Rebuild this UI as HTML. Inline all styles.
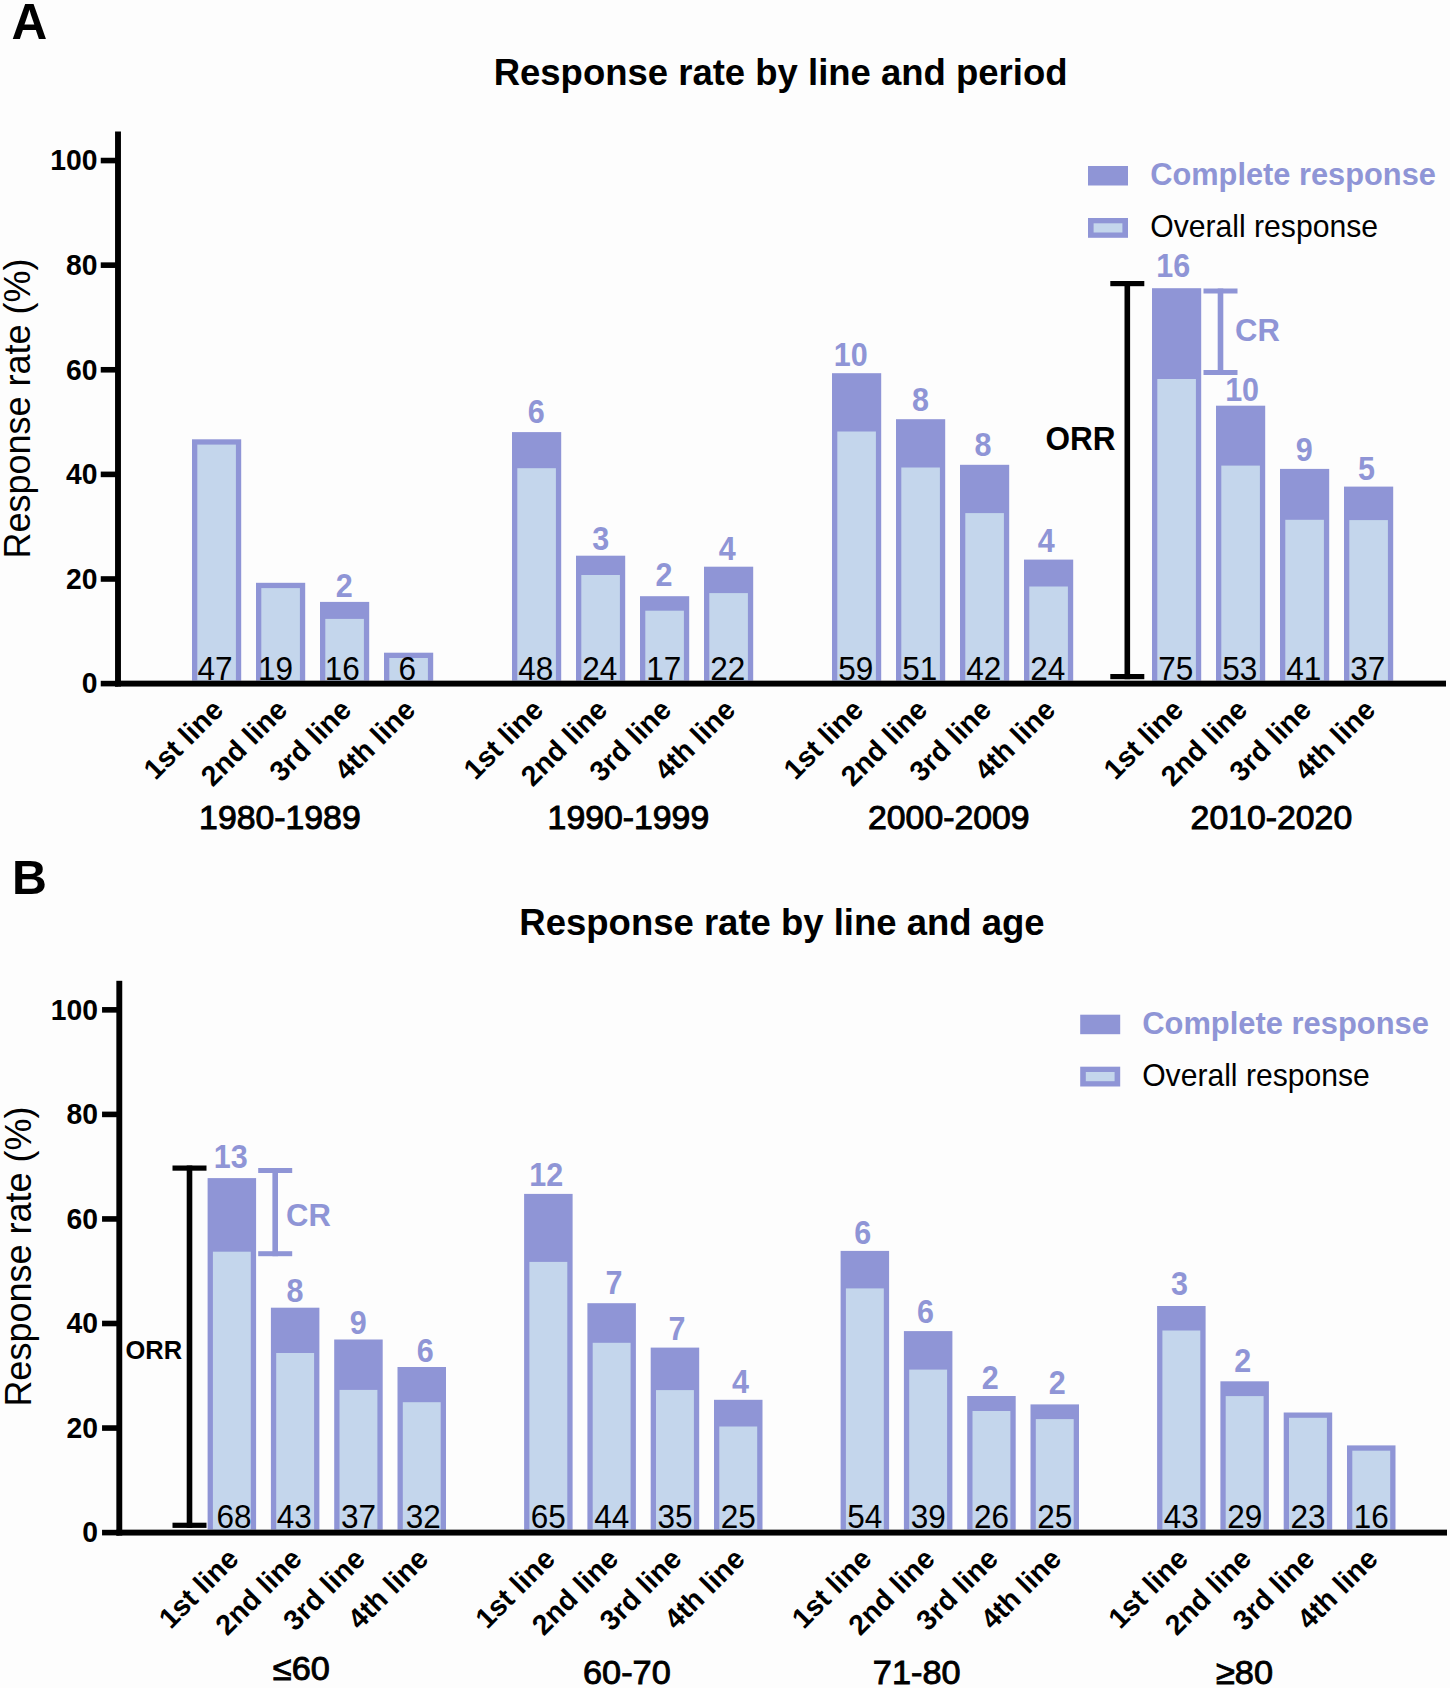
<!DOCTYPE html>
<html><head><meta charset="utf-8"><title>Response rate by line</title>
<style>
html,body{margin:0;padding:0;background:#fdfdfd;}
body{width:1450px;height:1688px;overflow:hidden;}
svg{display:block;font-family:"Liberation Sans", sans-serif;}
</style></head>
<body>
<svg width="1450" height="1688" viewBox="0 0 1450 1688">
<rect x="0" y="0" width="1450" height="1688" fill="#fdfdfd"/>
<rect x="192.00" y="439.30" width="49.20" height="241.35" fill="#8f95d6"/>
<rect x="197.30" y="444.60" width="38.60" height="236.05" fill="#c4d6ec"/>
<text transform="translate(215.00 679.60) scale(1.0000 1.0300)" font-size="31.5" fill="#000" text-anchor="middle">47</text>
<rect x="256.00" y="582.80" width="49.20" height="97.85" fill="#8f95d6"/>
<rect x="261.30" y="588.10" width="38.60" height="92.55" fill="#c4d6ec"/>
<text transform="translate(275.60 679.60) scale(1.0000 1.0300)" font-size="31.5" fill="#000" text-anchor="middle">19</text>
<rect x="320.00" y="601.90" width="49.20" height="78.75" fill="#8f95d6"/>
<rect x="325.30" y="618.90" width="38.60" height="61.75" fill="#c4d6ec"/>
<text transform="translate(344.20 596.80) scale(1.0000 1.0700)" font-size="30.5" font-weight="bold" fill="#8f95d6" text-anchor="middle">2</text>
<text transform="translate(342.20 679.60) scale(1.0000 1.0300)" font-size="31.5" fill="#000" text-anchor="middle">16</text>
<rect x="384.00" y="652.70" width="49.20" height="27.95" fill="#8f95d6"/>
<rect x="389.30" y="658.00" width="38.60" height="22.65" fill="#c4d6ec"/>
<text transform="translate(407.20 679.60) scale(1.0000 1.0300)" font-size="31.5" fill="#000" text-anchor="middle">6</text>
<rect x="512.00" y="432.10" width="49.20" height="248.55" fill="#8f95d6"/>
<rect x="517.30" y="468.20" width="38.60" height="212.45" fill="#c4d6ec"/>
<text transform="translate(536.30 423.30) scale(1.0000 1.0700)" font-size="30.5" font-weight="bold" fill="#8f95d6" text-anchor="middle">6</text>
<text transform="translate(535.80 679.60) scale(1.0000 1.0300)" font-size="31.5" fill="#000" text-anchor="middle">48</text>
<rect x="576.00" y="555.70" width="49.20" height="124.95" fill="#8f95d6"/>
<rect x="581.30" y="575.00" width="38.60" height="105.65" fill="#c4d6ec"/>
<text transform="translate(600.70 549.80) scale(1.0000 1.0700)" font-size="30.5" font-weight="bold" fill="#8f95d6" text-anchor="middle">3</text>
<text transform="translate(599.80 679.60) scale(1.0000 1.0300)" font-size="31.5" fill="#000" text-anchor="middle">24</text>
<rect x="640.00" y="596.20" width="49.20" height="84.45" fill="#8f95d6"/>
<rect x="645.30" y="610.70" width="38.60" height="69.95" fill="#c4d6ec"/>
<text transform="translate(664.00 585.90) scale(1.0000 1.0700)" font-size="30.5" font-weight="bold" fill="#8f95d6" text-anchor="middle">2</text>
<text transform="translate(663.80 679.60) scale(1.0000 1.0300)" font-size="31.5" fill="#000" text-anchor="middle">17</text>
<rect x="704.00" y="566.70" width="49.20" height="113.95" fill="#8f95d6"/>
<rect x="709.30" y="593.10" width="38.60" height="87.55" fill="#c4d6ec"/>
<text transform="translate(727.20 560.40) scale(1.0000 1.0700)" font-size="30.5" font-weight="bold" fill="#8f95d6" text-anchor="middle">4</text>
<text transform="translate(727.80 679.60) scale(1.0000 1.0300)" font-size="31.5" fill="#000" text-anchor="middle">22</text>
<rect x="832.00" y="373.20" width="49.20" height="307.45" fill="#8f95d6"/>
<rect x="837.30" y="431.50" width="38.60" height="249.15" fill="#c4d6ec"/>
<text transform="translate(850.70 366.40) scale(1.0000 1.0700)" font-size="30.5" font-weight="bold" fill="#8f95d6" text-anchor="middle">10</text>
<text transform="translate(855.80 679.60) scale(1.0000 1.0300)" font-size="31.5" fill="#000" text-anchor="middle">59</text>
<rect x="896.00" y="419.20" width="49.20" height="261.45" fill="#8f95d6"/>
<rect x="901.30" y="467.50" width="38.60" height="213.15" fill="#c4d6ec"/>
<text transform="translate(920.60 410.50) scale(1.0000 1.0700)" font-size="30.5" font-weight="bold" fill="#8f95d6" text-anchor="middle">8</text>
<text transform="translate(919.80 679.60) scale(1.0000 1.0300)" font-size="31.5" fill="#000" text-anchor="middle">51</text>
<rect x="960.00" y="464.80" width="49.20" height="215.85" fill="#8f95d6"/>
<rect x="965.30" y="513.10" width="38.60" height="167.55" fill="#c4d6ec"/>
<text transform="translate(983.00 455.90) scale(1.0000 1.0700)" font-size="30.5" font-weight="bold" fill="#8f95d6" text-anchor="middle">8</text>
<text transform="translate(983.80 679.60) scale(1.0000 1.0300)" font-size="31.5" fill="#000" text-anchor="middle">42</text>
<rect x="1024.00" y="559.60" width="49.20" height="121.05" fill="#8f95d6"/>
<rect x="1029.30" y="586.50" width="38.60" height="94.15" fill="#c4d6ec"/>
<text transform="translate(1046.20 552.40) scale(1.0000 1.0700)" font-size="30.5" font-weight="bold" fill="#8f95d6" text-anchor="middle">4</text>
<text transform="translate(1047.80 679.60) scale(1.0000 1.0300)" font-size="31.5" fill="#000" text-anchor="middle">24</text>
<rect x="1152.00" y="288.20" width="49.20" height="392.45" fill="#8f95d6"/>
<rect x="1157.30" y="379.00" width="38.60" height="301.65" fill="#c4d6ec"/>
<text transform="translate(1173.20 276.70) scale(1.0000 1.0700)" font-size="30.5" font-weight="bold" fill="#8f95d6" text-anchor="middle">16</text>
<text transform="translate(1175.80 679.60) scale(1.0000 1.0300)" font-size="31.5" fill="#000" text-anchor="middle">75</text>
<rect x="1216.00" y="405.70" width="49.20" height="274.95" fill="#8f95d6"/>
<rect x="1221.30" y="465.60" width="38.60" height="215.05" fill="#c4d6ec"/>
<text transform="translate(1242.10 401.30) scale(1.0000 1.0700)" font-size="30.5" font-weight="bold" fill="#8f95d6" text-anchor="middle">10</text>
<text transform="translate(1239.80 679.60) scale(1.0000 1.0300)" font-size="31.5" fill="#000" text-anchor="middle">53</text>
<rect x="1280.00" y="468.90" width="49.20" height="211.75" fill="#8f95d6"/>
<rect x="1285.30" y="519.80" width="38.60" height="160.85" fill="#c4d6ec"/>
<text transform="translate(1304.30 461.20) scale(1.0000 1.0700)" font-size="30.5" font-weight="bold" fill="#8f95d6" text-anchor="middle">9</text>
<text transform="translate(1303.80 679.60) scale(1.0000 1.0300)" font-size="31.5" fill="#000" text-anchor="middle">41</text>
<rect x="1344.00" y="486.60" width="49.20" height="194.05" fill="#8f95d6"/>
<rect x="1349.30" y="520.10" width="38.60" height="160.55" fill="#c4d6ec"/>
<text transform="translate(1366.40 479.70) scale(1.0000 1.0700)" font-size="30.5" font-weight="bold" fill="#8f95d6" text-anchor="middle">5</text>
<text transform="translate(1367.80 679.60) scale(1.0000 1.0300)" font-size="31.5" fill="#000" text-anchor="middle">37</text>
<rect x="115.05" y="131.50" width="5.90" height="555.05" fill="#000"/>
<rect x="115.05" y="680.65" width="1330.95" height="5.90" fill="#000"/>
<rect x="100.75" y="680.80" width="17.25" height="5.60" fill="#000"/>
<text transform="translate(97.45 693.40) scale(1.0000 1.0300)" font-size="28.3" font-weight="bold" fill="#000" text-anchor="end">0</text>
<rect x="100.75" y="576.19" width="17.25" height="5.60" fill="#000"/>
<text transform="translate(97.45 588.79) scale(1.0000 1.0300)" font-size="28.3" font-weight="bold" fill="#000" text-anchor="end">20</text>
<rect x="100.75" y="471.58" width="17.25" height="5.60" fill="#000"/>
<text transform="translate(97.45 484.18) scale(1.0000 1.0300)" font-size="28.3" font-weight="bold" fill="#000" text-anchor="end">40</text>
<rect x="100.75" y="366.97" width="17.25" height="5.60" fill="#000"/>
<text transform="translate(97.45 379.57) scale(1.0000 1.0300)" font-size="28.3" font-weight="bold" fill="#000" text-anchor="end">60</text>
<rect x="100.75" y="262.36" width="17.25" height="5.60" fill="#000"/>
<text transform="translate(97.45 274.96) scale(1.0000 1.0300)" font-size="28.3" font-weight="bold" fill="#000" text-anchor="end">80</text>
<rect x="100.75" y="157.75" width="17.25" height="5.60" fill="#000"/>
<text transform="translate(97.45 170.35) scale(1.0000 1.0300)" font-size="28.3" font-weight="bold" fill="#000" text-anchor="end">100</text>
<text transform="translate(30.30 408.50) rotate(-90) scale(1.0000 1.0300)" font-size="36" fill="#000" text-anchor="middle">Response rate (%)</text>
<text transform="translate(224.90 711.50) rotate(-45)" font-size="28.5" font-weight="bold" fill="#000" text-anchor="end">1st line</text>
<text transform="translate(288.90 711.50) rotate(-45)" font-size="28.5" font-weight="bold" fill="#000" text-anchor="end">2nd line</text>
<text transform="translate(352.90 711.50) rotate(-45)" font-size="28.5" font-weight="bold" fill="#000" text-anchor="end">3rd line</text>
<text transform="translate(416.90 711.50) rotate(-45)" font-size="28.5" font-weight="bold" fill="#000" text-anchor="end">4th line</text>
<text transform="translate(544.90 711.50) rotate(-45)" font-size="28.5" font-weight="bold" fill="#000" text-anchor="end">1st line</text>
<text transform="translate(608.90 711.50) rotate(-45)" font-size="28.5" font-weight="bold" fill="#000" text-anchor="end">2nd line</text>
<text transform="translate(672.90 711.50) rotate(-45)" font-size="28.5" font-weight="bold" fill="#000" text-anchor="end">3rd line</text>
<text transform="translate(736.90 711.50) rotate(-45)" font-size="28.5" font-weight="bold" fill="#000" text-anchor="end">4th line</text>
<text transform="translate(864.90 711.50) rotate(-45)" font-size="28.5" font-weight="bold" fill="#000" text-anchor="end">1st line</text>
<text transform="translate(928.90 711.50) rotate(-45)" font-size="28.5" font-weight="bold" fill="#000" text-anchor="end">2nd line</text>
<text transform="translate(992.90 711.50) rotate(-45)" font-size="28.5" font-weight="bold" fill="#000" text-anchor="end">3rd line</text>
<text transform="translate(1056.90 711.50) rotate(-45)" font-size="28.5" font-weight="bold" fill="#000" text-anchor="end">4th line</text>
<text transform="translate(1184.90 711.50) rotate(-45)" font-size="28.5" font-weight="bold" fill="#000" text-anchor="end">1st line</text>
<text transform="translate(1248.90 711.50) rotate(-45)" font-size="28.5" font-weight="bold" fill="#000" text-anchor="end">2nd line</text>
<text transform="translate(1312.90 711.50) rotate(-45)" font-size="28.5" font-weight="bold" fill="#000" text-anchor="end">3rd line</text>
<text transform="translate(1376.90 711.50) rotate(-45)" font-size="28.5" font-weight="bold" fill="#000" text-anchor="end">4th line</text>
<text transform="translate(279.90 828.60) scale(1.0000 0.9700)" font-size="33.8" fill="#000" text-anchor="middle" stroke="#000" stroke-width="1.0">1980-1989</text>
<text transform="translate(628.40 828.60) scale(1.0000 0.9700)" font-size="33.8" fill="#000" text-anchor="middle" stroke="#000" stroke-width="1.0">1990-1999</text>
<text transform="translate(948.80 828.60) scale(1.0000 0.9700)" font-size="33.8" fill="#000" text-anchor="middle" stroke="#000" stroke-width="1.0">2000-2009</text>
<text transform="translate(1271.40 828.60) scale(1.0000 0.9700)" font-size="33.8" fill="#000" text-anchor="middle" stroke="#000" stroke-width="1.0">2010-2020</text>
<text transform="translate(780.60 85.20) scale(1.0000 1.0200)" font-size="36.5" font-weight="bold" fill="#000" text-anchor="middle">Response rate by line and period</text>
<text transform="translate(11.50 38.90)" font-size="49.5" font-weight="bold" fill="#000" text-anchor="start">A</text>
<rect x="1088.00" y="166.00" width="40.00" height="19.50" fill="#8f95d6"/>
<rect x="1088.00" y="218.00" width="40.00" height="19.80" fill="#8f95d6"/>
<rect x="1093.60" y="223.30" width="28.80" height="9.20" fill="#c4d6ec"/>
<text transform="translate(1150.20 185.30) scale(1.0000 1.0300)" font-size="30.8" font-weight="bold" fill="#8f95d6" text-anchor="start">Complete response</text>
<text transform="translate(1150.20 237.30) scale(1.0000 1.0300)" font-size="30.15" fill="#000" text-anchor="start">Overall response</text>
<rect x="1124.50" y="281.00" width="5.60" height="398.20" fill="#000"/>
<rect x="1110.30" y="281.00" width="34.00" height="5.20" fill="#000"/>
<rect x="1110.30" y="674.00" width="34.00" height="5.20" fill="#000"/>
<text transform="translate(1045.40 449.80) scale(1.0000 1.0300)" font-size="31.5" font-weight="bold" fill="#000" text-anchor="start">ORR</text>
<rect x="1217.70" y="288.50" width="5.60" height="86.50" fill="#8f95d6"/>
<rect x="1203.50" y="288.50" width="34.00" height="5.00" fill="#8f95d6"/>
<rect x="1203.50" y="370.00" width="34.00" height="5.00" fill="#8f95d6"/>
<text transform="translate(1235.00 341.40) scale(1.0000 1.0300)" font-size="31" font-weight="bold" fill="#8f95d6" text-anchor="start">CR</text>
<rect x="207.60" y="1178.10" width="48.50" height="351.55" fill="#8f95d6"/>
<rect x="212.90" y="1251.70" width="37.90" height="277.95" fill="#c4d6ec"/>
<text transform="translate(230.80 1168.40) scale(1.0000 1.0700)" font-size="30.5" font-weight="bold" fill="#8f95d6" text-anchor="middle">13</text>
<text transform="translate(234.05 1528.00) scale(1.0000 1.0300)" font-size="31.5" fill="#000" text-anchor="middle">68</text>
<rect x="270.90" y="1307.70" width="48.50" height="221.95" fill="#8f95d6"/>
<rect x="276.20" y="1353.00" width="37.90" height="176.65" fill="#c4d6ec"/>
<text transform="translate(295.00 1302.10) scale(1.0000 1.0700)" font-size="30.5" font-weight="bold" fill="#8f95d6" text-anchor="middle">8</text>
<text transform="translate(294.15 1528.00) scale(1.0000 1.0300)" font-size="31.5" fill="#000" text-anchor="middle">43</text>
<rect x="334.20" y="1339.50" width="48.50" height="190.15" fill="#8f95d6"/>
<rect x="339.50" y="1389.90" width="37.90" height="139.75" fill="#c4d6ec"/>
<text transform="translate(358.20 1333.90) scale(1.0000 1.0700)" font-size="30.5" font-weight="bold" fill="#8f95d6" text-anchor="middle">9</text>
<text transform="translate(358.45 1528.00) scale(1.0000 1.0300)" font-size="31.5" fill="#000" text-anchor="middle">37</text>
<rect x="397.50" y="1367.00" width="48.50" height="162.65" fill="#8f95d6"/>
<rect x="402.80" y="1402.20" width="37.90" height="127.45" fill="#c4d6ec"/>
<text transform="translate(425.30 1361.90) scale(1.0000 1.0700)" font-size="30.5" font-weight="bold" fill="#8f95d6" text-anchor="middle">6</text>
<text transform="translate(423.25 1528.00) scale(1.0000 1.0300)" font-size="31.5" fill="#000" text-anchor="middle">32</text>
<rect x="524.10" y="1193.90" width="48.50" height="335.75" fill="#8f95d6"/>
<rect x="529.40" y="1261.90" width="37.90" height="267.75" fill="#c4d6ec"/>
<text transform="translate(546.30 1185.90) scale(1.0000 1.0700)" font-size="30.5" font-weight="bold" fill="#8f95d6" text-anchor="middle">12</text>
<text transform="translate(548.35 1528.00) scale(1.0000 1.0300)" font-size="31.5" fill="#000" text-anchor="middle">65</text>
<rect x="587.40" y="1303.20" width="48.50" height="226.45" fill="#8f95d6"/>
<rect x="592.70" y="1342.80" width="37.90" height="186.85" fill="#c4d6ec"/>
<text transform="translate(614.10 1293.50) scale(1.0000 1.0700)" font-size="30.5" font-weight="bold" fill="#8f95d6" text-anchor="middle">7</text>
<text transform="translate(611.65 1528.00) scale(1.0000 1.0300)" font-size="31.5" fill="#000" text-anchor="middle">44</text>
<rect x="650.70" y="1347.60" width="48.50" height="182.05" fill="#8f95d6"/>
<rect x="656.00" y="1390.10" width="37.90" height="139.55" fill="#c4d6ec"/>
<text transform="translate(677.00 1339.60) scale(1.0000 1.0700)" font-size="30.5" font-weight="bold" fill="#8f95d6" text-anchor="middle">7</text>
<text transform="translate(674.95 1528.00) scale(1.0000 1.0300)" font-size="31.5" fill="#000" text-anchor="middle">35</text>
<rect x="714.00" y="1399.80" width="48.50" height="129.85" fill="#8f95d6"/>
<rect x="719.30" y="1426.50" width="37.90" height="103.15" fill="#c4d6ec"/>
<text transform="translate(740.40 1393.00) scale(1.0000 1.0700)" font-size="30.5" font-weight="bold" fill="#8f95d6" text-anchor="middle">4</text>
<text transform="translate(738.25 1528.00) scale(1.0000 1.0300)" font-size="31.5" fill="#000" text-anchor="middle">25</text>
<rect x="840.60" y="1250.90" width="48.50" height="278.75" fill="#8f95d6"/>
<rect x="845.90" y="1288.40" width="37.90" height="241.25" fill="#c4d6ec"/>
<text transform="translate(862.80 1244.00) scale(1.0000 1.0700)" font-size="30.5" font-weight="bold" fill="#8f95d6" text-anchor="middle">6</text>
<text transform="translate(864.85 1528.00) scale(1.0000 1.0300)" font-size="31.5" fill="#000" text-anchor="middle">54</text>
<rect x="903.90" y="1331.10" width="48.50" height="198.55" fill="#8f95d6"/>
<rect x="909.20" y="1369.60" width="37.90" height="160.05" fill="#c4d6ec"/>
<text transform="translate(925.60 1323.20) scale(1.0000 1.0700)" font-size="30.5" font-weight="bold" fill="#8f95d6" text-anchor="middle">6</text>
<text transform="translate(928.15 1528.00) scale(1.0000 1.0300)" font-size="31.5" fill="#000" text-anchor="middle">39</text>
<rect x="967.20" y="1396.00" width="48.50" height="133.65" fill="#8f95d6"/>
<rect x="972.50" y="1411.00" width="37.90" height="118.65" fill="#c4d6ec"/>
<text transform="translate(990.30 1389.10) scale(1.0000 1.0700)" font-size="30.5" font-weight="bold" fill="#8f95d6" text-anchor="middle">2</text>
<text transform="translate(991.45 1528.00) scale(1.0000 1.0300)" font-size="31.5" fill="#000" text-anchor="middle">26</text>
<rect x="1030.50" y="1404.40" width="48.50" height="125.25" fill="#8f95d6"/>
<rect x="1035.80" y="1419.10" width="37.90" height="110.55" fill="#c4d6ec"/>
<text transform="translate(1057.30 1394.10) scale(1.0000 1.0700)" font-size="30.5" font-weight="bold" fill="#8f95d6" text-anchor="middle">2</text>
<text transform="translate(1054.75 1528.00) scale(1.0000 1.0300)" font-size="31.5" fill="#000" text-anchor="middle">25</text>
<rect x="1157.10" y="1306.00" width="48.50" height="223.65" fill="#8f95d6"/>
<rect x="1162.40" y="1330.50" width="37.90" height="199.15" fill="#c4d6ec"/>
<text transform="translate(1179.60 1294.90) scale(1.0000 1.0700)" font-size="30.5" font-weight="bold" fill="#8f95d6" text-anchor="middle">3</text>
<text transform="translate(1181.35 1528.00) scale(1.0000 1.0300)" font-size="31.5" fill="#000" text-anchor="middle">43</text>
<rect x="1220.40" y="1381.30" width="48.50" height="148.35" fill="#8f95d6"/>
<rect x="1225.70" y="1396.10" width="37.90" height="133.55" fill="#c4d6ec"/>
<text transform="translate(1242.70 1372.10) scale(1.0000 1.0700)" font-size="30.5" font-weight="bold" fill="#8f95d6" text-anchor="middle">2</text>
<text transform="translate(1244.65 1528.00) scale(1.0000 1.0300)" font-size="31.5" fill="#000" text-anchor="middle">29</text>
<rect x="1283.70" y="1412.50" width="48.50" height="117.15" fill="#8f95d6"/>
<rect x="1289.00" y="1417.80" width="37.90" height="111.85" fill="#c4d6ec"/>
<text transform="translate(1307.95 1528.00) scale(1.0000 1.0300)" font-size="31.5" fill="#000" text-anchor="middle">23</text>
<rect x="1347.00" y="1445.40" width="48.50" height="84.25" fill="#8f95d6"/>
<rect x="1352.30" y="1450.70" width="37.90" height="78.95" fill="#c4d6ec"/>
<text transform="translate(1371.25 1528.00) scale(1.0000 1.0300)" font-size="31.5" fill="#000" text-anchor="middle">16</text>
<rect x="116.35" y="980.80" width="5.90" height="554.75" fill="#000"/>
<rect x="116.35" y="1529.65" width="1330.65" height="5.90" fill="#000"/>
<rect x="102.05" y="1529.80" width="17.25" height="5.60" fill="#000"/>
<text transform="translate(98.05 1542.40) scale(1.0000 1.0300)" font-size="28.3" font-weight="bold" fill="#000" text-anchor="end">0</text>
<rect x="102.05" y="1425.25" width="17.25" height="5.60" fill="#000"/>
<text transform="translate(98.05 1437.85) scale(1.0000 1.0300)" font-size="28.3" font-weight="bold" fill="#000" text-anchor="end">20</text>
<rect x="102.05" y="1320.70" width="17.25" height="5.60" fill="#000"/>
<text transform="translate(98.05 1333.30) scale(1.0000 1.0300)" font-size="28.3" font-weight="bold" fill="#000" text-anchor="end">40</text>
<rect x="102.05" y="1216.15" width="17.25" height="5.60" fill="#000"/>
<text transform="translate(98.05 1228.75) scale(1.0000 1.0300)" font-size="28.3" font-weight="bold" fill="#000" text-anchor="end">60</text>
<rect x="102.05" y="1111.60" width="17.25" height="5.60" fill="#000"/>
<text transform="translate(98.05 1124.20) scale(1.0000 1.0300)" font-size="28.3" font-weight="bold" fill="#000" text-anchor="end">80</text>
<rect x="102.05" y="1007.05" width="17.25" height="5.60" fill="#000"/>
<text transform="translate(98.05 1019.65) scale(1.0000 1.0300)" font-size="28.3" font-weight="bold" fill="#000" text-anchor="end">100</text>
<text transform="translate(30.80 1256.60) rotate(-90) scale(1.0000 1.0300)" font-size="36" fill="#000" text-anchor="middle">Response rate (%)</text>
<text transform="translate(240.10 1560.50) rotate(-45)" font-size="28.5" font-weight="bold" fill="#000" text-anchor="end">1st line</text>
<text transform="translate(303.40 1560.50) rotate(-45)" font-size="28.5" font-weight="bold" fill="#000" text-anchor="end">2nd line</text>
<text transform="translate(366.70 1560.50) rotate(-45)" font-size="28.5" font-weight="bold" fill="#000" text-anchor="end">3rd line</text>
<text transform="translate(430.00 1560.50) rotate(-45)" font-size="28.5" font-weight="bold" fill="#000" text-anchor="end">4th line</text>
<text transform="translate(556.60 1560.50) rotate(-45)" font-size="28.5" font-weight="bold" fill="#000" text-anchor="end">1st line</text>
<text transform="translate(619.90 1560.50) rotate(-45)" font-size="28.5" font-weight="bold" fill="#000" text-anchor="end">2nd line</text>
<text transform="translate(683.20 1560.50) rotate(-45)" font-size="28.5" font-weight="bold" fill="#000" text-anchor="end">3rd line</text>
<text transform="translate(746.50 1560.50) rotate(-45)" font-size="28.5" font-weight="bold" fill="#000" text-anchor="end">4th line</text>
<text transform="translate(873.10 1560.50) rotate(-45)" font-size="28.5" font-weight="bold" fill="#000" text-anchor="end">1st line</text>
<text transform="translate(936.40 1560.50) rotate(-45)" font-size="28.5" font-weight="bold" fill="#000" text-anchor="end">2nd line</text>
<text transform="translate(999.70 1560.50) rotate(-45)" font-size="28.5" font-weight="bold" fill="#000" text-anchor="end">3rd line</text>
<text transform="translate(1063.00 1560.50) rotate(-45)" font-size="28.5" font-weight="bold" fill="#000" text-anchor="end">4th line</text>
<text transform="translate(1189.60 1560.50) rotate(-45)" font-size="28.5" font-weight="bold" fill="#000" text-anchor="end">1st line</text>
<text transform="translate(1252.90 1560.50) rotate(-45)" font-size="28.5" font-weight="bold" fill="#000" text-anchor="end">2nd line</text>
<text transform="translate(1316.20 1560.50) rotate(-45)" font-size="28.5" font-weight="bold" fill="#000" text-anchor="end">3rd line</text>
<text transform="translate(1379.50 1560.50) rotate(-45)" font-size="28.5" font-weight="bold" fill="#000" text-anchor="end">4th line</text>
<text transform="translate(301.30 1679.60) scale(1.0400 1.0300)" font-size="33" fill="#000" text-anchor="middle" stroke="#000" stroke-width="0.9">≤60</text>
<text transform="translate(626.90 1683.60) scale(1.0400 1.0300)" font-size="33" fill="#000" text-anchor="middle" stroke="#000" stroke-width="0.9">60-70</text>
<text transform="translate(916.70 1683.60) scale(1.0400 1.0300)" font-size="33" fill="#000" text-anchor="middle" stroke="#000" stroke-width="0.9">71-80</text>
<text transform="translate(1244.50 1683.60) scale(1.0400 1.0300)" font-size="33" fill="#000" text-anchor="middle" stroke="#000" stroke-width="0.9">≥80</text>
<text transform="translate(782.00 934.60) scale(1.0000 1.0200)" font-size="36.5" font-weight="bold" fill="#000" text-anchor="middle">Response rate by line and age</text>
<text transform="translate(12.00 894.10)" font-size="48.3" font-weight="bold" fill="#000" text-anchor="start">B</text>
<rect x="1080.20" y="1014.70" width="40.00" height="19.50" fill="#8f95d6"/>
<rect x="1080.20" y="1066.70" width="40.00" height="19.80" fill="#8f95d6"/>
<rect x="1085.80" y="1072.00" width="28.80" height="9.20" fill="#c4d6ec"/>
<text transform="translate(1142.20 1034.00) scale(1.0000 1.0300)" font-size="30.9" font-weight="bold" fill="#8f95d6" text-anchor="start">Complete response</text>
<text transform="translate(1142.20 1086.00) scale(1.0000 1.0300)" font-size="30.1" fill="#000" text-anchor="start">Overall response</text>
<rect x="186.70" y="1165.50" width="5.60" height="362.40" fill="#000"/>
<rect x="172.50" y="1165.50" width="34.00" height="5.20" fill="#000"/>
<rect x="172.50" y="1522.70" width="34.00" height="5.20" fill="#000"/>
<text transform="translate(125.50 1358.80) scale(1.0000 1.0300)" font-size="25.5" font-weight="bold" fill="#000" text-anchor="start">ORR</text>
<rect x="272.40" y="1168.00" width="5.60" height="88.20" fill="#8f95d6"/>
<rect x="258.20" y="1168.00" width="34.00" height="5.00" fill="#8f95d6"/>
<rect x="258.20" y="1251.20" width="34.00" height="5.00" fill="#8f95d6"/>
<text transform="translate(286.00 1225.70) scale(1.0000 1.0300)" font-size="31" font-weight="bold" fill="#8f95d6" text-anchor="start">CR</text>
</svg>
</body></html>
